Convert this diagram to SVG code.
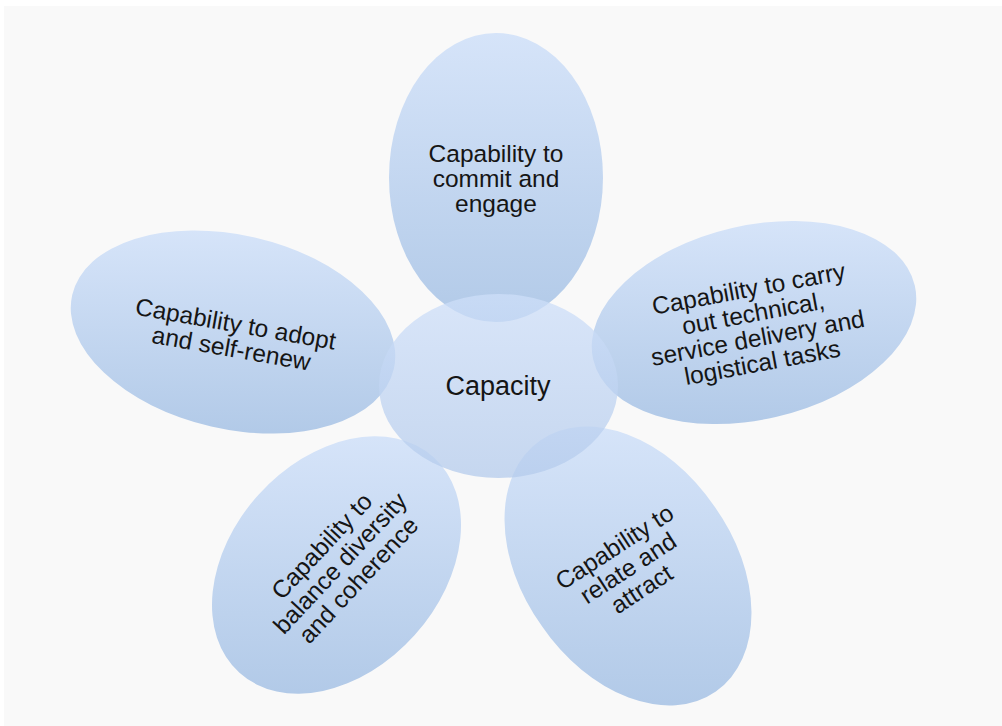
<svg xmlns="http://www.w3.org/2000/svg" width="1002" height="726" viewBox="0 0 1002 726">
  <defs>
    <linearGradient id="petal" x1="0" y1="0" x2="0" y2="1">
      <stop offset="0" stop-color="rgb(202,221,249)"/>
      <stop offset="1" stop-color="rgb(154,186,226)"/>
    </linearGradient>
    <linearGradient id="core" x1="0" y1="0" x2="0" y2="1">
      <stop offset="0" stop-color="rgb(206,223,249)"/>
      <stop offset="1" stop-color="rgb(180,203,236)"/>
    </linearGradient>
  </defs>
  <style>
    .shape { fill: url(#petal); fill-opacity: 0.75; }
    .coreShape { fill: url(#core); fill-opacity: 0.75; }
    text { font-family: "Liberation Sans", Arial, sans-serif; font-size: 24.5px; fill: #151515; text-anchor: middle; }
    .big { font-size: 27px; }
  </style>
  <rect x="4" y="6" width="998" height="720" fill="#f9f9f9"/>

  <g id="node-commit">
    <ellipse class="shape" cx="496" cy="177.5" rx="107" ry="144.5"/>
  </g>
  <g id="node-adopt">
    <path class="shape" d="M393.8,369.1 A165,97 13 1 1 72.2,294.9 A165,97 13 1 1 393.8,369.1 Z"/>
  </g>
  <g id="node-carry">
    <path class="shape" d="M914.8,285.4 A165,97 -13 1 1 593.2,359.6 A165,97 -13 1 1 914.8,285.4 Z"/>
  </g>
  <g id="node-balance">
    <path class="shape" d="M414.5,635.3 A105,145 42 1 1 258.5,494.7 A105,145 42 1 1 414.5,635.3 Z"/>
  </g>
  <g id="node-relate">
    <path class="shape" d="M714,505.8 A105,150 -35 1 1 542,626.2 A105,150 -35 1 1 714,505.8 Z"/>
  </g>
  <g id="node-capacity">
    <ellipse class="coreShape" cx="498.5" cy="386" rx="119.5" ry="92"/>
  </g>

  <g id="labels">
    <text x="496" y="162">Capability to</text>
    <text x="496" y="187">commit and</text>
    <text x="496" y="212">engage</text>

    <text class="big" x="498" y="395">Capacity</text>

    <g transform="translate(233.5,336) rotate(10)">
      <text x="0" y="-4">Capability to adopt</text>
      <text x="0" y="21">and self-renew</text>
    </g>

    <g transform="translate(755.5,325.5) rotate(-10.5)">
      <text x="0" y="-29">Capability to carry</text>
      <text x="0" y="-4">out technical,</text>
      <text x="0" y="21">service delivery and</text>
      <text x="0" y="46">logistical tasks</text>
    </g>

    <g transform="translate(340,563) rotate(-47)">
      <text x="0" y="-16.5">Capability to</text>
      <text x="0" y="8.5">balance diversity</text>
      <text x="0" y="33.5">and coherence</text>
    </g>

    <g transform="translate(628,568) rotate(-33)">
      <text x="0" y="-16.5">Capability to</text>
      <text x="0" y="8.5">relate and</text>
      <text x="0" y="33.5">attract</text>
    </g>
  </g>
</svg>
